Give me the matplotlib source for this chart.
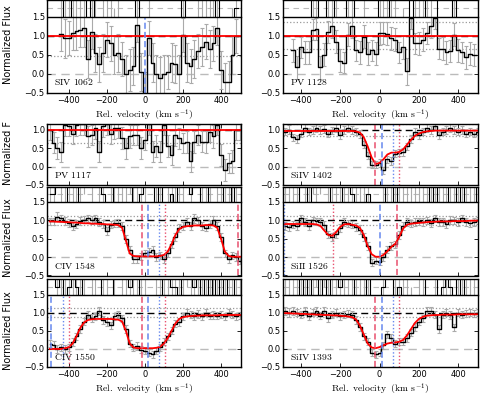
import numpy as np
import matplotlib
matplotlib.use("Agg")
import matplotlib.pyplot as plt
import matplotlib.transforms as mtransforms

plt.rcParams['mathtext.fontset'] = 'cm'
plt.rcParams['font.family'] = ['DejaVu Sans']

nan = np.nan

# ---------------- data ----------------
VEL = [-500, -480, -460, -440, -420, -400, -380, -360, -340, -320, -300, -280, -260,
       -240, -220, -200, -180, -160, -140, -120, -100, -80, -60, -40, -20, 0,
       20, 40, 60, 80, 100, 120, 140, 160, 180, 200, 220, 240, 260, 280, 300,
       320, 340, 360, 380, 400, 420, 440, 460, 480, 500]

CONTINUUM = 1.0

SIV1062_FLUX = [nan, nan, nan, 1.05, 0.93, 0.95, 1.07, 1.12, 1.15, 1.2, 0.4, 1.1, 0.55,
                0.25, 0.55, 0.9, 0.8, 0.5, 0.55, 0.4, 0.0, 0.1, 0.2, 1.28, 0.05, -0.55,
                0.95, 0.3, 0.0, -0.1, 0.0, 0.05, 0.3, 0.25, 0.0, 1.02, 0.3, 0.2, 0.4, 0.6, 0.7,
                0.85, 0.65, 0.8, 1.2, 0.1, -0.2, -0.2, 0.5, 1.0, nan]
SIV1062_ERR = [nan, nan, nan, 0.45, 0.5, 0.45, 0.45, 0.5, 0.45, 0.5, 0.5, 0.45, 0.5,
               0.45, 0.5, 0.45, 0.45, 0.5, 0.5, 0.45, 0.5, 0.55, 0.5, 0.45, 0.5, 0.6,
               0.45, 0.5, 0.5, 0.55, 0.5, 0.45, 0.5, 0.5, 0.5, 0.45, 0.5, 0.45, 0.5, 0.45, 0.5,
               0.45, 0.5, 0.45, 0.45, 0.5, 0.5, 0.55, 0.5, 0.45, nan]

PV1128_FLUX = [nan, nan, nan, 0.62, 0.18, 0.7, 0.57, 0.57, 1.16, 1.18, 0.17, 0.5, 1.1,
               1.25, 0.85, 0.35, 0.3, 1.03, 1.25, 0.62, 0.57, 0.98, 0.53, 0.62, 0.53, 1.07,
               1.07, 1.05, 0.94, 0.9, 0.57, 0.7, 0.07, 1.48, 0.8, 0.8, 0.9, 1.07, 1.25, 1.48, 0.66,
               0.66, 0.57, 0.6, 1.03, 0.62, 0.57, 0.44, 0.53, 0.5, nan]
PV1128_ERR = [nan, nan, nan, 0.3, 0.3, 0.28, 0.3, 0.3, 0.28, 0.3, 0.3, 0.3, 0.28,
              0.3, 0.3, 0.3, 0.28, 0.3, 0.3, 0.28, 0.3, 0.3, 0.3, 0.28, 0.3, 0.3,
              0.28, 0.3, 0.3, 0.3, 0.28, 0.3, 0.35, 0.3, 0.28, 0.3, 0.3, 0.28, 0.3, 0.3, 0.28,
              0.3, 0.3, 0.28, 0.3, 0.3, 0.28, 0.3, 0.3, 0.28, nan]

PV1117_FLUX = [1.0, 0.65, 0.5, 0.4, 1.14, 1.1, 0.9, 1.13, 1.15, 1.15, 0.82, 0.86, 1.05,
               0.41, 1.1, 1.15, 0.9, 1.05, 1.05, 0.77, 0.5, 0.82, 0.86, 0.86, 0.5, 0.73,
               1.15, 0.41, 0.55, 0.41, 1.14, 0.55, 0.32, 0.86, 0.77, 0.64, 0.68, 0.14, 0.68, 0.86, 0.68,
               0.68, 0.95, 0.82, 1.14, 0.32, -0.1, 0.1, 0.14, 1.0, 1.0]
PV1117_ERR = [0.28, 0.28, 0.3, 0.28, 0.3, 0.28, 0.28, 0.3, 0.28, 0.3, 0.28, 0.28, 0.3,
              0.28, 0.3, 0.28, 0.28, 0.3, 0.28, 0.3, 0.28, 0.3, 0.28, 0.28, 0.3, 0.28,
              0.3, 0.28, 0.3, 0.28, 0.28, 0.3, 0.28, 0.3, 0.28, 0.28, 0.3, 0.28, 0.3, 0.28, 0.28,
              0.3, 0.28, 0.3, 0.28, 0.3, 0.3, 0.28, 0.3, 0.28, 0.28]

SIIV1402_FLUX = [nan, 0.95, 1.0, 0.8, 0.75, 0.9, 1.05, 0.95, 1.0, 1.05, 1.0, 1.02, 0.9,
                 0.98, 1.05, 0.85, 1.0, 1.05, 1.0, 0.95, 0.9, 0.6, 0.3, 0.05, 0.05, 0.1,
                 -0.1, 0.2, 0.15, 0.35, 0.38, 0.4, 0.55, 0.75, 0.95, 0.85, 0.95, 1.05, 1.0, 1.1, 0.85,
                 0.95, 1.0, 1.05, 1.0, 0.95, 1.0, 0.9, 0.95, 0.9, 0.95]
SIIV1402_MODEL = [0.97, 0.97, 0.97, 0.97, 0.97, 0.97, 0.97, 0.97, 0.97, 0.97, 0.97, 0.97, 0.97,
                  0.97, 0.97, 0.97, 0.97, 0.97, 0.97, 0.96, 0.93, 0.8, 0.55, 0.25, 0.07, 0.1,
                  0.2, 0.33, 0.38, 0.38, 0.4, 0.47, 0.6, 0.73, 0.84, 0.9, 0.94, 0.96, 0.97, 0.98, 0.98,
                  0.98, 0.98, 0.98, 0.98, 0.98, 0.98, 0.98, 0.98, 0.98, 0.98]

CIV1548_FLUX = [0.97, 0.97, 1.1, 1.05, 0.98, 0.93, 0.85, 0.9, 0.98, 1.02, 1.05, 1.0, 1.05,
                0.95, 0.9, 0.7, 0.88, 0.92, 0.93, 0.85, 0.5, 0.2, -0.05, -0.05, 0.02, 0.1,
                0.15, 0.2, 0.0, 0.05, -0.05, 0.1, 0.35, 0.55, 0.8, 0.85, 0.95, 0.85, 1.05, 1.0, 0.85,
                0.8, 0.9, 1.0, 0.85, 0.55, 0.1, -0.05, 0.05, 0.0, -0.1]
CIV1548_MODEL = [0.97, 0.97, 0.96, 0.96, 0.95, 0.95, 0.94, 0.94, 0.93, 0.92, 0.92, 0.91, 0.91,
                 0.9, 0.9, 0.89, 0.89, 0.88, 0.87, 0.8, 0.45, 0.1, 0.03, 0.02, 0.02, 0.02,
                 0.02, 0.02, 0.02, 0.03, 0.06, 0.15, 0.35, 0.6, 0.76, 0.82, 0.84, 0.85, 0.86, 0.86, 0.86,
                 0.87, 0.87, 0.86, 0.8, 0.5, 0.15, 0.03, 0.01, 0.01, 0.01]

SIII1526_FLUX = [nan, 0.85, 0.82, 0.88, 0.85, 1.05, 0.95, 0.85, 1.0, 0.97, 0.95, 0.88, 0.62,
                 0.55, 0.62, 0.8, 0.95, 0.92, 0.88, 0.82, 0.75, 0.55, 0.3, -0.15, -0.1, -0.12,
                 0.0, 0.2, 0.3, 0.35, 0.6, 0.85, 0.95, 0.92, 0.95, 0.97, 0.95, 1.0, 0.92, 1.05, 0.95,
                 0.95, 0.9, 1.0, 1.0, 0.95, 1.05, 0.95, 0.92, 0.95, 1.0]
SIII1526_MODEL = [0.9, 0.9, 0.9, 0.9, 0.9, 0.9, 0.9, 0.9, 0.9, 0.89, 0.85, 0.72, 0.6,
                  0.58, 0.68, 0.82, 0.89, 0.9, 0.88, 0.86, 0.8, 0.6, 0.3, 0.08, 0.01, 0.01,
                  0.06, 0.16, 0.28, 0.36, 0.55, 0.78, 0.88, 0.91, 0.92, 0.93, 0.94, 0.95, 0.96, 0.96, 0.97,
                  0.97, 0.97, 0.97, 0.98, 0.98, 0.98, 0.98, 0.99, 0.99, 0.99]

CIV1550_FLUX = [0.15, 0.12, 0.0, 0.05, 0.0, 0.05, 0.2, 0.35, 0.55, 0.75, 0.95, 0.85, 0.9,
                1.05, 0.8, 0.75, 0.65, 0.9, 0.95, 0.85, 0.55, 0.15, 0.05, 0.08, -0.02, -0.05,
                -0.1, -0.15, -0.05, 0.05, 0.2, 0.35, 0.5, 0.7, 0.75, 0.9, 1.0, 0.95, 0.92, 0.97, 0.9,
                1.0, 0.92, 0.95, 0.92, 0.95, 0.9, 1.0, 0.95, 0.9, 0.93]
CIV1550_MODEL = [0.0, 0.0, 0.0, 0.0, 0.02, 0.05, 0.15, 0.35, 0.58, 0.73, 0.8, 0.82, 0.83,
                 0.83, 0.83, 0.83, 0.83, 0.82, 0.81, 0.76, 0.5, 0.15, 0.04, 0.02, 0.02, 0.02,
                 0.02, 0.02, 0.03, 0.06, 0.15, 0.3, 0.5, 0.7, 0.83, 0.88, 0.9, 0.91, 0.92, 0.92, 0.93,
                 0.93, 0.93, 0.93, 0.93, 0.94, 0.94, 0.94, 0.94, 0.94, 0.94]

SIIV1393_FLUX = [nan, 1.05, 1.0, 1.05, 1.0, 0.95, 1.05, 0.9, 1.0, 1.05, 0.92, 1.05, 0.85,
                 0.95, 1.0, 0.92, 0.95, 0.98, 0.95, 0.8, 0.6, 0.35, 0.2, -0.1, -0.15, -0.1,
                 0.1, 0.4, 0.3, 0.15, 0.2, 0.2, 0.3, 0.45, 0.6, 0.75, 0.85, 1.05, 1.05, 0.95, 0.55,
                 0.95, 1.0, 0.95, 0.6, 1.0, 0.95, 0.98, 1.0, 0.98, 1.0]
SIIV1393_MODEL = [1.0, 0.99, 0.99, 0.98, 0.98, 0.97, 0.97, 0.96, 0.96, 0.95, 0.95, 0.94, 0.94,
                  0.93, 0.93, 0.92, 0.91, 0.9, 0.88, 0.82, 0.65, 0.4, 0.15, 0.04, 0.02, 0.05,
                  0.1, 0.15, 0.17, 0.18, 0.2, 0.25, 0.38, 0.55, 0.72, 0.83, 0.89, 0.92, 0.93, 0.94, 0.94,
                  0.95, 0.95, 0.95, 0.95, 0.96, 0.96, 0.96, 0.96, 0.96, 0.96]

ERR_STRONG = [0.1, 0.1, 0.12, 0.1, 0.1, 0.1, 0.11, 0.1, 0.1, 0.1, 0.1, 0.11, 0.1,
              0.1, 0.1, 0.11, 0.1, 0.1, 0.1, 0.1, 0.11, 0.1, 0.1, 0.1, 0.09, 0.1,
              0.1, 0.1, 0.1, 0.1, 0.1, 0.1, 0.1, 0.1, 0.11, 0.1, 0.1, 0.1, 0.11, 0.1, 0.1,
              0.1, 0.1, 0.11, 0.1, 0.1, 0.1, 0.1, 0.1, 0.1, 0.1]

# component markers: (velocity, colour, style)
SIV1062_COMP = [(2, 'b', '--')]
CIV1548_COMP = [(-17, 'r', '--'), (14, 'b', '--'), (76, 'b', ':'), (105, 'r', ':'), (490, 'r', '--')]
CIV1550_COMP = [(-492, 'b', '--'), (-433, 'b', ':'), (-397, 'r', ':'), (-17, 'r', '--'),
                (14, 'b', '--'), (74, 'b', ':'), (105, 'r', ':')]
SIIV1402_COMP = [(-22, 'r', '--'), (12, 'b', '--'), (67, 'b', ':'), (100, 'r', ':')]
SIII1526_COMP = [(-485, 'b', ':'), (-235, 'r', ':'), (0, 'b', '--'), (88, 'r', '--')]
SIIV1393_COMP = [(-22, 'r', '--'), (12, 'b', '--'), (67, 'b', ':'), (100, 'r', ':')]

# continuum uncertainty (dotted lines at 1 +/- this)
SIG_SIV1062 = 0.53
SIG_PV1128 = 0.35
SIG_PV1117 = 0.37
SIG_SIIV1402 = 0.17
SIG_STRONG = 0.12

# ---------------- layout ----------------
W, H = 485, 399
fig = plt.figure(figsize=(W / 100, H / 100), dpi=100)

COLS = [(47.5, 241.0, (-512, 505)), (283.0, 478.0, (-490, 500))]
ROWS = [(0.0, 93.0, 1.94), (124.0, 185.0, 1.16), (186.5, 275.5, 1.92), (278.5, 367.0, 1.95)]

RED = '#e8506e'
BLUE = '#6688ee'


def make_ax(col, row):
    x0, x1, xl = COLS[col]
    yt, yb, ytop = ROWS[row]
    ax = fig.add_axes([x0 / W, 1 - yb / H, (x1 - x0) / W, (yb - yt) / H])
    ax.set_xlim(*xl)
    ax.set_ylim(-0.5, ytop)
    return ax


def draw(ax, flux, err, model, sig, label, comps, strip, xlab):
    v = np.asarray(VEL, float)
    f = np.asarray(flux, float)
    e = np.asarray(err, float)
    ax.axhline(0.0, color='#bbbbbb', lw=1.0, dashes=(6, 4), zorder=1)
    ax.axhline(1.0 + sig, color='#999999', lw=0.9, ls=':', zorder=1)
    ax.axhline(1.0 - sig, color='#999999', lw=0.9, ls=':', zorder=1)
    ax.axhline(1.0, color='k', lw=1.0, dashes=(5, 3), zorder=2)
    ax.errorbar(v, f, yerr=e, fmt='none', ecolor='#aaaaaa', elinewidth=0.8,
                capsize=1.6, capthick=0.8, zorder=3)
    ax.plot(v, f, color='k', lw=1.0, drawstyle='steps-mid', zorder=4)
    if np.ndim(model) == 0:
        ax.axhline(model, color='red', lw=1.3, zorder=5)
        m = model
    else:
        ax.plot(v, model, color='red', lw=1.3, zorder=5)
        m = np.asarray(model, float)
    for vc, c, s in comps:
        col = RED if c == 'r' else BLUE
        if s == '--':
            ax.vlines(vc, -0.5, 1.5, colors=col, lw=1.1, linestyles=(0, (4, 2)), zorder=6)
        else:
            ax.vlines(vc, -0.5, 1.5, colors=col, lw=1.0, linestyles=(0, (1, 1.5)), zorder=6)
    trans = mtransforms.blended_transform_factory(ax.transAxes, ax.transData)
    ax.text(0.035, -0.22, label, transform=trans, fontsize=7, va='center', ha='left', zorder=7)

    ax.set_yticks([-0.5, 0.0, 0.5, 1.0, 1.5] if ax.get_ylim()[1] > 1.5 else [-0.5, 0.0, 0.5, 1.0])
    ax.set_yticklabels(['\u22120.5', '0.0', '0.5', '1.0', '1.5'][:len(ax.get_yticks())])
    ax.set_xticks([-400, -200, 0, 200, 400])
    ax.tick_params(direction='in', length=3, width=0.6, labelsize=6, top=True, right=True, pad=2)
    for sp in ax.spines.values():
        sp.set_linewidth(1.0)
        sp.set_zorder(10)
    if xlab:
        ax.set_xlabel(r'$\mathrm{Rel.\ velocity\ \ (km\ s^{-1})}$', fontsize=7, labelpad=2)
    else:
        ax.tick_params(labelbottom=False)

    if strip:
        ymin, ymax = ax.get_ylim()
        fr = (1.5 - ymin) / (ymax - ymin)
        sax = ax.inset_axes([0, fr, 1, 1 - fr])
        sax.set_zorder(8)
        sax.set_facecolor('white')
        sax.set_xlim(ax.get_xlim())
        sax.set_ylim(-0.004, 0.004)
        resid = f - m
        sax.axhline(0.0, color='#bbbbbb', lw=0.8, dashes=(5, 4))
        sax.errorbar(v, resid, yerr=e, fmt='none', ecolor='#aaaaaa', elinewidth=0.8)
        sax.plot(v, resid, color='k', lw=0.8, drawstyle='steps-mid')
        sax.set_xticks([])
        sax.set_yticks([])
        for k in ['left', 'right', 'top']:
            sax.spines[k].set_visible(False)
        sax.spines['bottom'].set_linewidth(1.0)


a = make_ax(0, 0)
draw(a, SIV1062_FLUX, SIV1062_ERR, CONTINUUM, SIG_SIV1062, r'$\mathrm{SIV\ 1062}$', SIV1062_COMP, True, True)
a = make_ax(1, 0)
draw(a, PV1128_FLUX, PV1128_ERR, CONTINUUM, SIG_PV1128, r'$\mathrm{PV\ 1128}$', [], True, True)
a = make_ax(0, 1)
draw(a, PV1117_FLUX, PV1117_ERR, CONTINUUM, SIG_PV1117, r'$\mathrm{PV\ 1117}$', [], False, False)
a = make_ax(1, 1)
draw(a, SIIV1402_FLUX, ERR_STRONG, SIIV1402_MODEL, SIG_SIIV1402, r'$\mathrm{SiIV\ 1402}$', SIIV1402_COMP, False, False)
a = make_ax(0, 2)
draw(a, CIV1548_FLUX, ERR_STRONG, CIV1548_MODEL, SIG_STRONG, r'$\mathrm{CIV\ 1548}$', CIV1548_COMP, True, False)
a = make_ax(1, 2)
draw(a, SIII1526_FLUX, ERR_STRONG, SIII1526_MODEL, SIG_STRONG, r'$\mathrm{SiII\ 1526}$', SIII1526_COMP, True, False)
a = make_ax(0, 3)
draw(a, CIV1550_FLUX, ERR_STRONG, CIV1550_MODEL, SIG_STRONG, r'$\mathrm{CIV\ 1550}$', CIV1550_COMP, True, True)
a = make_ax(1, 3)
draw(a, SIIV1393_FLUX, ERR_STRONG, SIIV1393_MODEL, SIG_STRONG, r'$\mathrm{SiIV\ 1393}$', SIIV1393_COMP, True, True)

# y labels
for txt, yc in [('Normalized Flux', 45), ('Normalized F', 153), ('Normalized Flux', 238), ('Normalized Flux', 331)]:
    fig.text(8 / W, 1 - yc / H, txt, rotation=90, fontsize=7, ha='center', va='center')

fig.savefig('out.png', dpi=100)
